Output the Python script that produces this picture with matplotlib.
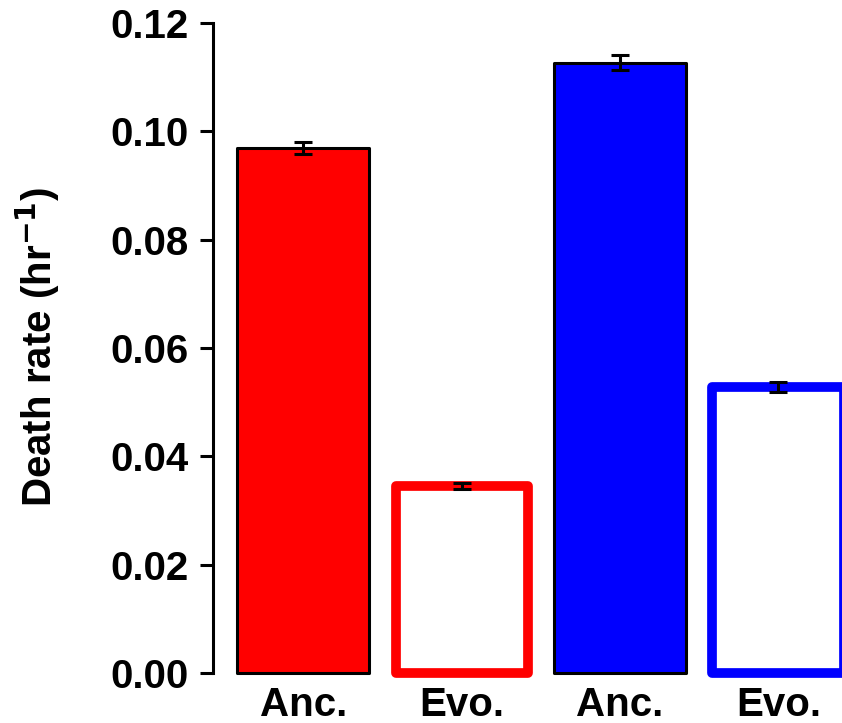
import numpy as np
import matplotlib
matplotlib.use("Agg")
import matplotlib.pyplot as plt

# death rates for ancestral / evolved lines in two backgrounds
labels = ["Anc.", "Evo.", "Anc.", "Evo."]
rates = [0.0969, 0.0345, 0.1127, 0.0528]
errors = [0.0011, 0.00055, 0.0014, 0.0009]
colors = ["#ff0000", "#ff0000", "#0000ff", "#0000ff"]
filled = [True, False, True, False]

plt.rcParams["font.family"] = ["Liberation Sans", "DejaVu Sans"]
plt.rcParams["font.weight"] = "bold"

W, H = 842, 723
fig = plt.figure(figsize=(W / 100, H / 100), dpi=100)

# R-style barplot geometry: width 1, space 0.2
xpos = 0.7 + 1.2 * np.arange(len(rates))
xlim = (0.016, 4.984)
ylim = (-0.0048, 0.1248)
px_per_x = 132.0
px_per_y = 650 / 0.12
left = 213
bottom = 673 + (0 - ylim[0]) * px_per_y
ax_w = (xlim[1] - xlim[0]) * px_per_x
ax_h = (ylim[1] - ylim[0]) * px_per_y
ax = fig.add_axes([left / W, (H - bottom) / H, ax_w / W, ax_h / H])
ax.set_xlim(*xlim)
ax.set_ylim(*ylim)

for x, v, c, f in zip(xpos, rates, colors, filled):
    if f:
        b = ax.bar(x, v, width=1.0, color=c, edgecolor="black", linewidth=2.2)
    else:
        b = ax.bar(x, v, width=1.0, color="white", edgecolor=c, linewidth=7)
    for p in b:
        p.set_joinstyle("round")

ax.errorbar(xpos, rates, yerr=errors, fmt="none", ecolor="black",
            elinewidth=2.2, capsize=6.8, capthick=2.2, zorder=5)

for s in ["top", "right", "bottom"]:
    ax.spines[s].set_visible(False)
ax.spines["left"].set_bounds(0, 0.12)
ax.spines["left"].set_linewidth(2.2)
ax.set_yticks(np.arange(0, 0.121, 0.02))
ax.set_yticklabels([f"{v:.2f}" for v in np.arange(0, 0.121, 0.02)])
ax.tick_params(axis="y", length=9.5, width=2.2, pad=8, labelsize=29)
ax.set_xticks(xpos)
ax.set_xticklabels(labels, fontsize=29, fontweight="bold")
ax.tick_params(axis="x", length=0, pad=-9)

fig.text(38 / W, 1 - 347 / H, "Death rate (hr$^{\\mathsf{-1}}$)", rotation=90,
         fontsize=29, fontweight="bold", ha="center", va="center")

fig.savefig("out.png", dpi=100)
